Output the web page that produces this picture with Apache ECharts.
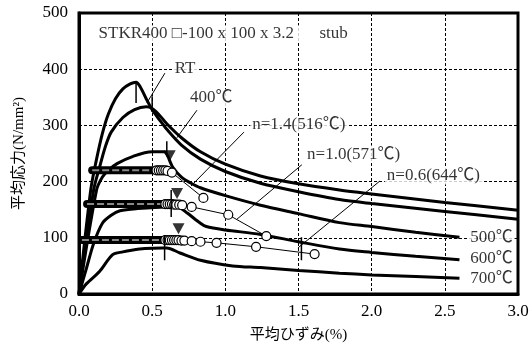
<!DOCTYPE html>
<html>
<head>
<meta charset="utf-8">
<script src="https://cdn.jsdelivr.net/npm/echarts@6/dist/echarts.min.js"></script>
<style>
  html, body { margin: 0; padding: 0; background: #fff; }
  #main { width: 532px; height: 351px; }
</style>
</head>
<body>
<div id="main"></div>
<script>
// 温度ごとの平均応力-平均ひずみ曲線
var curveRT = [[0,0],[0.08,185],[0.12,240],[0.16,286],[0.2,320],[0.25,348],[0.3,365],[0.35,374],[0.39,377],[0.42,368],[0.46,347],[0.5,328],[0.55,310],[0.6,293],[0.7,265],[0.83,240],[1.0,218],[1.24,197],[1.5,182],[1.78,168],[2.0,161],[2.5,147],[3.0,133]];
var curve400 = [[0,0],[0.1,185],[0.14,225],[0.18,262],[0.22,288],[0.3,314],[0.38,328],[0.46,333],[0.5,330],[0.55,318],[0.6,303],[0.7,278],[0.83,253],[1.0,231],[1.24,210],[1.5,196],[1.78,185],[2.0,178],[2.5,163],[3.0,149]];
var curve500 = [[0,0],[0.12,185],[0.16,208],[0.2,220],[0.26,232],[0.37,245],[0.5,253],[0.58,253],[0.64,226],[0.7,208],[0.76,198],[0.83,189],[1.0,175],[1.24,158],[1.5,143],[1.78,127],[2.0,120],[2.3,110],[2.6,101]];
var curve600 = [[0,0],[0.05,45],[0.1,90],[0.16,126],[0.22,140],[0.28,148],[0.4,152],[0.6,155],[0.69,153],[0.74,144],[0.83,126],[0.87,120],[1.0,114],[1.24,106],[1.5,93],[1.78,80],[2.0,74],[2.3,67],[2.6,61]];
var curve700 = [[0,0],[0.05,18],[0.14,40],[0.23,70],[0.3,75],[0.36,78],[0.45,81],[0.57,82],[0.6,82],[0.69,73],[0.83,60],[1.05,50],[1.24,47],[1.5,42],[1.78,37],[2.0,34],[2.3,31],[2.6,28]];

// 一定荷重加熱試験 (n=1.4, 1.0, 0.6)
var band14 = [[0.09,220],[0.53,220]];
var band10 = [[0.055,160],[0.59,160]];
var band06 = [[0.02,96],[0.59,96]];
var points14 = [[0.53,220],[0.545,220],[0.56,220],[0.575,220],[0.59,220],[0.605,219],[0.635,216],[0.85,171]];
var points10 = [[0.59,160],[0.605,160],[0.62,160],[0.635,160],[0.65,159],[0.665,159],[0.685,159],[0.705,158],[0.77,155],[1.02,141],[1.28,103]];
var points06 = [[0.59,96],[0.605,96],[0.62,96],[0.635,96],[0.65,96],[0.665,96],[0.68,96],[0.7,95],[0.72,95],[0.77,94],[0.83,93],[0.94,91],[1.21,84],[1.61,71]];
var triangles = [[0.62,246],[0.67,179],[0.68,116]];
// 縦の目印 [x, y下, y上]
var ticks = [[0.39,340,377],[0.5,324,352],[0.6,245,272],[0.63,137,185],[0.585,60,105],[1.52,60,101]];

// 注記
var notes = [
  {name: 'STKR400 □-100 x 100 x 3.2      stub', value: [0.12,463]},
  {name: 'RT', value: [0.64,402]},
  {name: '400℃', value: [0.745,349]},
  {name: 'n=1.4(516℃)', value: [1.17,301]},
  {name: 'n=1.0(571℃)', value: [1.545,249]},
  {name: 'n=0.6(644℃)', value: [2.09,210]},
  {name: '500℃', value: [2.66,101]},
  {name: '600℃', value: [2.66,64]},
  {name: '700℃', value: [2.66,28]}
];
var leaders = [
  [[0.587,393],[0.464,340]],
  [[0.806,327],[0.669,278]],
  [[1.127,288],[0.765,192]],
  [[1.523,230],[1.079,133]],
  [[2.056,201],[1.496,82]]
];

var font = "'Liberation Serif', 'Noto Sans CJK JP', serif";
var myChart = echarts.init(document.getElementById('main'));

var series = [];
[curveRT, curve400, curve500, curve600, curve700].forEach(function (c) {
  series.push({
    type: 'line', data: c, smooth: 0.3, symbol: 'none', z: 3,
    lineStyle: {color: '#000', width: 3}
  });
});
[band14, band10, band06].forEach(function (b) {
  series.push({
    type: 'line', data: b, symbol: 'none', z: 4,
    lineStyle: {color: '#000', width: 8, cap: 'round'}
  });
  series.push({
    type: 'line', data: b, symbol: 'none', z: 5,
    lineStyle: {color: '#888', width: 2, type: [7, 3]}
  });
});
[points14, points10, points06].forEach(function (p) {
  series.push({
    type: 'line', data: p, symbol: 'circle', symbolSize: 9, z: 6,
    lineStyle: {color: '#000', width: 1},
    itemStyle: {color: '#fff', borderColor: '#000', borderWidth: 1.2}
  });
});
series.push({
  type: 'scatter', data: triangles, symbol: 'triangle', symbolRotate: 180,
  symbolSize: [12, 11], z: 7, itemStyle: {color: '#000'}
});
ticks.forEach(function (t) {
  series.push({
    type: 'line', data: [[t[0], t[1]], [t[0], t[2]]], symbol: 'none', z: 7,
    lineStyle: {color: '#000', width: 1.5}
  });
});
leaders.forEach(function (l) {
  series.push({
    type: 'line', data: l, symbol: 'none', z: 8,
    lineStyle: {color: '#000', width: 1}
  });
});
series.push({
  type: 'scatter', data: notes, symbolSize: 0, z: 9,
  label: {
    show: true, position: 'right', distance: 0,
    formatter: '{b}', color: '#000', fontSize: 17, fontFamily: font,
    backgroundColor: '#fff', padding: [0, 2]
  }
});

var option = {
  animation: false,
  backgroundColor: '#fff',
  grid: {left: 79, right: 14, top: 13, bottom: 57, show: true, borderColor: '#000', borderWidth: 3},
  xAxis: {
    type: 'value', min: 0, max: 3, interval: 0.5,
    name: '平均ひずみ(%)', nameLocation: 'middle', nameGap: 34,
    nameTextStyle: {color: '#000', fontSize: 15, fontFamily: font},
    axisLine: {lineStyle: {color: '#000', width: 3}},
    axisTick: {show: false},
    axisLabel: {color: '#000', fontSize: 17, fontFamily: font, margin: 9,
      formatter: function (v) { return v.toFixed(1); }},
    splitLine: {show: true, lineStyle: {color: '#000', width: 1, type: [3, 2]}}
  },
  yAxis: {
    type: 'value', min: 0, max: 500, interval: 100,
    name: '平均応力(N/mm²)', nameLocation: 'middle', nameGap: 52,
    nameTextStyle: {color: '#000', fontSize: 15, fontFamily: font},
    axisLine: {lineStyle: {color: '#000', width: 3}},
    axisTick: {show: false},
    axisLabel: {color: '#000', fontSize: 17, fontFamily: font, margin: 11},
    splitLine: {show: true, lineStyle: {color: '#000', width: 1, type: [3, 2]}}
  },
  series: series
};
myChart.setOption(option);
</script>
</body>
</html>
